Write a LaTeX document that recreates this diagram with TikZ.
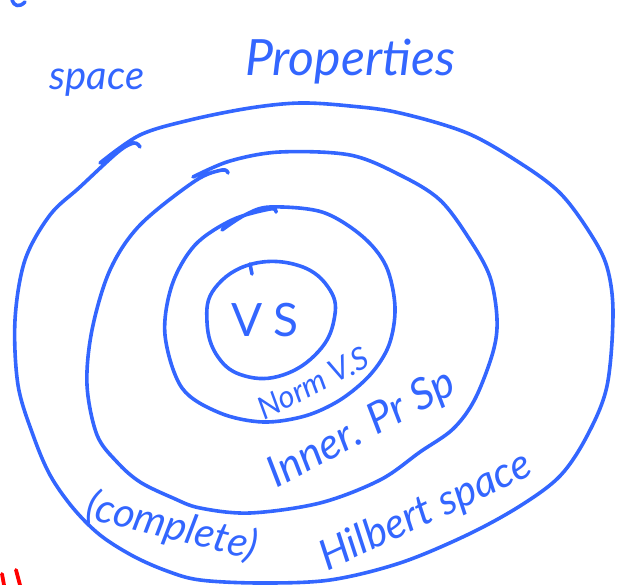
\documentclass[tikz,border=0pt]{standalone}
\usepackage{fontspec}
\setmainfont{Lato}
\definecolor{pen}{HTML}{3366FF}
\definecolor{redpen}{HTML}{FF0000}
\tikzset{
  stroke/.style={draw=pen, line width=3.6pt, line cap=round, line join=round},
  redstroke/.style={draw=redpen, line width=3.8pt, line cap=round},
  ink/.style={text=pen, inner sep=0pt, font=\itshape},
}
\begin{document}
\begin{tikzpicture}[x=1pt,y=-1pt]
\useasboundingbox (0,0) rectangle (619,585);

% outer loop: Hilbert space
\draw[stroke] plot[smooth, tension=0.55] coordinates {
  (100,163) (140,135) (190,120) (250,108) (300,103) (350,106) (400,113)
  (467,133) (520,163) (560,193) (590,233) (607,267) (613,313) (607,386)
  (587,436) (560,476) (520,506) (467,535) (400,563) (330,580) (260,583)
  (200,580) (167,571) (133,556) (100,535) (73,508) (50,475) (33,435)
  (18,385) (15,320) (25,260) (50,215) (80,187) (118,152) (134,143) (140,147)};

% middle loop: inner product space
\draw[stroke] plot[smooth, tension=0.55] coordinates {
  (193,177) (230,161) (280,152) (350,155) (400,175) (440,200) (470,240)
  (490,277) (497,319) (493,352) (475,399) (453,429) (420,452) (380,480)
  (320,503) (250,513) (200,508) (173,498) (140,482) (117,462) (97,435)
  (87,385) (92,330) (110,270) (140,225) (195,181) (222,170) (228,173)};

% norm loop: normed vector space
\draw[stroke] plot[smooth, tension=0.55] coordinates {
  (222,230) (245,215) (270,207) (322,212) (362,236) (386,266) (395,307)
  (389,345) (370,375) (340,400) (305,416) (263,422) (220,413) (182,388)
  (165,335) (172,285) (195,245) (232,220) (270,209) (276,212)};

% innermost loop: vector space
\draw[stroke] plot[smooth cycle, tension=0.7] coordinates {
  (252,264) (300,266) (330,290) (334,320) (318,352) (283,375) (245,376)
  (218,357) (207,322) (215,288)};
\draw[stroke] (250,264) -- (252,274);

% labels
\node[ink, font=\fontsize{40}{40}\selectfont\itshape] (space) at (97,83) {space};
\node[ink, font=\fontsize{50}{50}\selectfont\itshape] (props) at (350,62) {Properties};
\node[ink, font=\fontsize{46}{46}\selectfont] (vs) at (265,320) {V S};
\node[ink, font=\fontsize{31}{31}\selectfont\itshape, rotate=27] (norm) at (313,383) {Norm V.S};
\node[ink, font=\fontsize{43}{43}\selectfont\itshape, rotate=28] (inner) at (362,430) {Inner. Pr Sp};
\node[ink, font=\fontsize{41}{41}\selectfont\itshape, rotate=-14] (compl) at (172,527) {(complete)};
\node[ink, font=\fontsize{42}{42}\selectfont\itshape, rotate=25] (hilb) at (426,512) {Hilbert space};

% stray pen marks at the edges
\draw[stroke] (12,0) .. controls (14,6) and (19,8) .. (25,2);
\draw[redstroke] (2,574) -- (4,585);
\draw[redstroke] (16,570) -- (20,585);
\end{tikzpicture}
\end{document}
